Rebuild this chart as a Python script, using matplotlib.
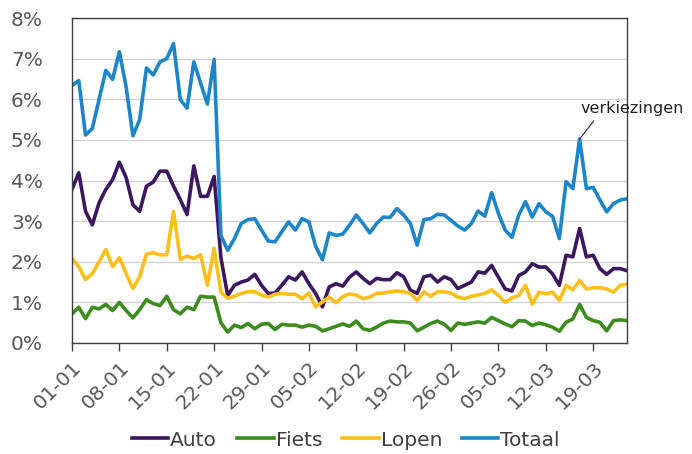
import matplotlib
matplotlib.use("Agg")
import matplotlib.pyplot as plt
import numpy as np

tick_labels = ["01-01", "08-01", "15-01", "22-01", "29-01", "05-02",
               "12-02", "19-02", "26-02", "05-03", "12-03", "19-03"]

totaal = [6.34, 6.46, 5.12, 5.28, 6.0, 6.71, 6.49, 7.17, 6.3, 5.1, 5.5, 6.77, 6.6, 6.92, 7.0, 7.37, 5.99, 5.78, 6.92, 6.4, 5.88, 6.98,
          2.65, 2.28,
          2.57, 2.94, 3.04, 3.06, 2.78, 2.51, 2.49, 2.74, 2.98, 2.78, 3.06, 2.98, 2.38, 2.05, 2.71, 2.65, 2.68, 2.9,
          3.15, 2.94, 2.71, 2.94, 3.1, 3.09, 3.31, 3.15, 2.94, 2.41, 3.04, 3.06, 3.17, 3.15, 3.02, 2.88, 2.78, 2.94, 3.25, 3.12,
          3.7, 3.19, 2.78, 2.6, 3.15, 3.48, 3.1, 3.43, 3.23, 3.12, 2.57, 3.97, 3.8, 5.02, 3.8, 3.83, 3.52, 3.23, 3.43, 3.52, 3.55]

auto = [3.78, 4.19, 3.24, 2.91, 3.45, 3.78, 4.02, 4.45, 4.07, 3.4, 3.24, 3.86, 3.96, 4.23, 4.23, 3.86, 3.53, 3.16, 4.36, 3.61, 3.61, 4.1,
        2.1, 1.17,
        1.42, 1.5, 1.55, 1.69, 1.42, 1.22, 1.23, 1.42, 1.63, 1.55, 1.75, 1.46, 1.22, 0.89, 1.38, 1.46, 1.4, 1.62,
        1.75, 1.59, 1.46, 1.59, 1.56, 1.56, 1.73, 1.63, 1.3, 1.22, 1.63, 1.67, 1.5, 1.63, 1.56, 1.34, 1.42, 1.5, 1.75, 1.72,
        1.91, 1.62, 1.33, 1.28, 1.66, 1.75, 1.95, 1.87, 1.87, 1.7, 1.42, 2.16, 2.12, 2.82, 2.12, 2.16, 1.83, 1.69, 1.83, 1.83, 1.78]

lopen = [2.08, 1.88, 1.56, 1.71, 2.0, 2.3, 1.88, 2.1, 1.71, 1.34, 1.63, 2.19, 2.22, 2.17, 2.17, 3.24, 2.06, 2.14, 2.08, 2.17, 1.42, 2.33,
         1.25, 1.1,
         1.15, 1.22, 1.26, 1.26, 1.18, 1.13, 1.2, 1.22, 1.2, 1.2, 1.09, 1.23, 0.89, 1.01, 1.13, 0.99, 1.14, 1.21,
         1.18, 1.09, 1.13, 1.22, 1.23, 1.26, 1.28, 1.26, 1.22, 1.05, 1.26, 1.15, 1.26, 1.26, 1.23, 1.13, 1.09, 1.15, 1.18, 1.22,
         1.31, 1.17, 1.0, 1.11, 1.17, 1.42, 0.96, 1.25, 1.21, 1.25, 1.05, 1.42, 1.31, 1.54, 1.33, 1.36, 1.36, 1.33, 1.25, 1.42, 1.45]

fiets = [0.72, 0.88, 0.6, 0.88, 0.84, 0.95, 0.8, 1.0, 0.8, 0.62, 0.82, 1.07, 0.97, 0.92, 1.15, 0.82, 0.72, 0.88, 0.82, 1.15, 1.13, 1.13,
         0.5, 0.27,
         0.44, 0.38, 0.48, 0.35, 0.46, 0.48, 0.33, 0.46, 0.44, 0.44, 0.39, 0.44, 0.41, 0.3, 0.35, 0.41, 0.47, 0.41,
         0.54, 0.35, 0.31, 0.39, 0.49, 0.54, 0.52, 0.52, 0.49, 0.3, 0.39, 0.48, 0.54, 0.46, 0.31, 0.49, 0.46, 0.49, 0.52, 0.49,
         0.63, 0.55, 0.47, 0.4, 0.55, 0.54, 0.43, 0.49, 0.45, 0.39, 0.29, 0.51, 0.59, 0.95, 0.63, 0.55, 0.51, 0.3, 0.55, 0.57, 0.55]

series = [("Auto", auto, "#3d1660"), ("Fiets", fiets, "#3c8c1e"),
          ("Lopen", lopen, "#fbbf1c"), ("Totaal", totaal, "#1c86c8")]

days = np.arange(len(totaal))

plt.rcParams['font.family'] = ['DejaVu Sans']
fig = plt.figure(figsize=(6.92, 4.54), dpi=100)
ax = fig.add_axes([72/692, 1-343/454, (627-72)/692, (343-18)/454])

for name, vals, col in series:
    ax.plot(days, vals, color=col, lw=2.6, label=name, solid_joinstyle='round')

ax.set_xlim(0, len(totaal) - 1)
ax.set_ylim(0, 8)
ax.set_yticks(range(0, 9))
ax.set_yticklabels([f"{i}%" for i in range(0, 9)])
ax.set_xticks(np.arange(0, 7*len(tick_labels), 7))
ax.set_xticklabels(tick_labels, rotation=45, ha='right', rotation_mode='anchor')
ax.tick_params(axis='y', length=0, pad=21, labelsize=14.5, labelcolor='#595959')
ax.tick_params(axis='x', length=6, width=1, color='#404040', pad=5, labelsize=14.5, labelcolor='#595959')
ax.grid(axis='y', color='#d4d4d4', lw=1)
ax.set_axisbelow(True)
for s in ax.spines.values():
    s.set_color('#404040')
    s.set_linewidth(1)

peak = int(np.argmax(totaal[40:])) + 40
ax.annotate("", xy=(peak, totaal[peak]), xytext=(peak + 2.1, 5.47),
            arrowprops=dict(arrowstyle='-', color='#3d1660', lw=0.8,
                            shrinkA=0, shrinkB=0),
            annotation_clip=False)
ax.text(peak + 0.1, 5.6, "verkiezingen", fontsize=11.5, color='#222222',
        ha='left', va='bottom', clip_on=False)

fig.legend(loc='center', bbox_to_anchor=(0.5, 1-440/454), ncol=4, frameon=False,
           fontsize=14.5, handlelength=1.8, handletextpad=0.1, columnspacing=1.0,
           labelcolor='#404040')

fig.savefig("out.png", dpi=100)
